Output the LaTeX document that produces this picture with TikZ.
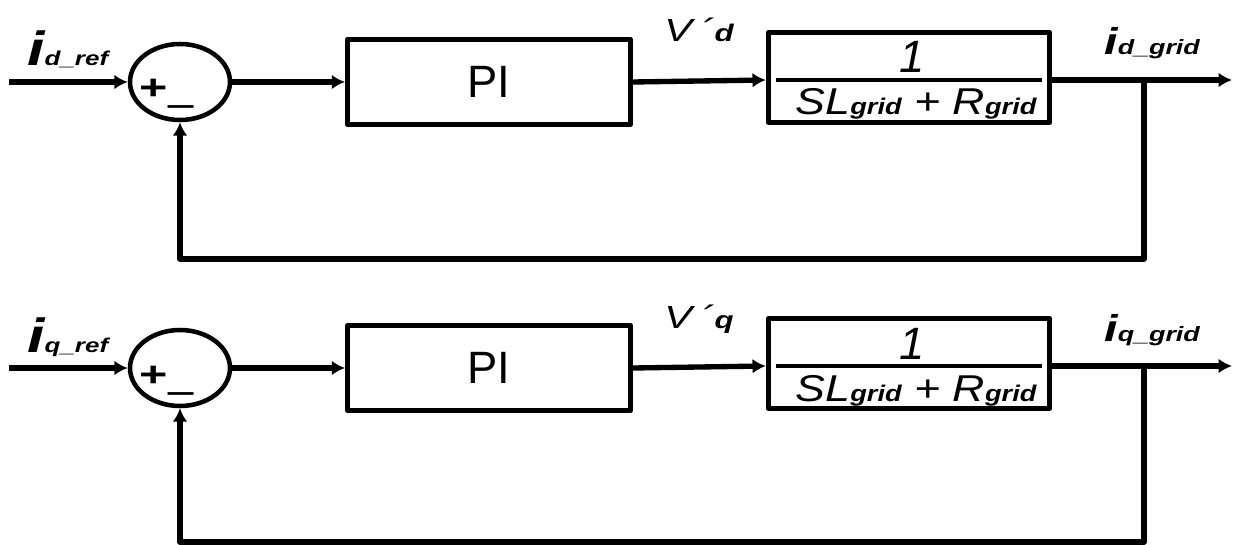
\documentclass[tikz,border=0pt]{standalone}
\usepackage{fontspec}
\usepackage{graphicx}
\setmainfont{Liberation Sans}
\usetikzlibrary{arrows.meta,shapes.geometric}
\newcommand{\stretchtxt}[1]{\scalebox{1.3}[1]{#1}}
\newcommand{\denomtxt}[1]{\scalebox{1.2}[1]{#1}}
\newcommand{\fsz}[1]{\fontsize{#1}{#1}\selectfont}
\begin{document}
\begin{tikzpicture}[x=0.75pt,y=-0.75pt,
  line join=round,
  blk/.style={draw, line width=3.8pt, rectangle, inner sep=0},
  pibox/.style={blk, minimum width=212pt, minimum height=64pt},
  tfbox/.style={blk, minimum width=211pt, minimum height=67.5pt},
  sumnode/.style={draw, ellipse, line width=3.4pt, minimum width=75pt, minimum height=57pt, inner sep=0},
  wire/.style={line width=4pt},
  arr/.style={wire, -{Latex[length=10pt,width=11pt]}},
  fracline/.style={line width=3.2pt},
  lbl/.style={inner sep=0, anchor=base west},
  ctr/.style={inner sep=0, anchor=base},
]
\useasboundingbox (0,0) rectangle (1234,545);

% ---------- top loop ----------
\node[sumnode] (s1) at (180,82) {};
\node[lbl] (p1) at (139,100) {\scalebox{1.4}[1]{\bfseries\fsz{26pt}+}};
\node[lbl] (m1) at (168,100) {\scalebox{1}[1.6]{\bfseries\fsz{34pt}\_}};
\node[pibox] (pi1) at (489,82) {\fsz{34pt}PI};
\node[tfbox] (tf1) at (909,77.5) {};
\coordinate (fl1) at (776,80);
\coordinate (fr1) at (1042,80);
\draw[fracline] (fl1) -- (fr1);
\node[ctr] (num1) at (912,73) {\itshape\fsz{34pt}1};
\node[ctr] (den1) at (916,115) {\denomtxt{\itshape\fsz{28pt}SL{\bfseries\fsz{17pt}grid} + R{\bfseries\fsz{17pt}grid}}};
\node[lbl] (iref1) at (27,66) {\stretchtxt{\bfseries\itshape\fsz{36pt}i\fsz{15pt}d\_ref}};
\node[lbl] (v1) at (664,42) {\stretchtxt{\itshape\fsz{24pt}V\hspace{5pt}´{\bfseries\fsz{18pt}d}}};
\node[lbl] (igrid1) at (1104,55) {\stretchtxt{\bfseries\itshape\fsz{28pt}i\fsz{15.5pt}d\_grid}};
\coordinate (in1) at (9,82);
\coordinate (out1) at (1232,80);
\coordinate (tap1) at (1144,80);
\coordinate (fb1) at (1144,259);
\draw[arr] (in1) -- (s1.west);
\draw[arr] (s1.east) -- (pi1.west);
\draw[arr] (pi1.east) -- (tf1.west |- out1);
\draw[arr] (tf1.east |- out1) -- (out1);
\draw[arr] (tap1) -- (fb1) -| (s1.south);

% ---------- bottom loop ----------
\node[sumnode] (s2) at (180,368) {};
\node[lbl] (p2) at (139,386) {\scalebox{1.4}[1]{\bfseries\fsz{26pt}+}};
\node[lbl] (m2) at (168,386) {\scalebox{1}[1.6]{\bfseries\fsz{34pt}\_}};
\node[pibox] (pi2) at (489,368) {\fsz{34pt}PI};
\node[tfbox] (tf2) at (909,363.5) {};
\coordinate (fl2) at (776,366);
\coordinate (fr2) at (1042,366);
\draw[fracline] (fl2) -- (fr2);
\node[ctr] (num2) at (912,359) {\itshape\fsz{34pt}1};
\node[ctr] (den2) at (916,401) {\denomtxt{\itshape\fsz{28pt}SL{\bfseries\fsz{17pt}grid} + R{\bfseries\fsz{17pt}grid}}};
\node[lbl] (iref2) at (27,352) {\stretchtxt{\bfseries\itshape\fsz{36pt}i\fsz{15pt}q\_ref}};
\node[lbl] (v2) at (664,328) {\stretchtxt{\itshape\fsz{24pt}V\hspace{5pt}´{\bfseries\fsz{18pt}q}}};
\node[lbl] (igrid2) at (1104,341) {\stretchtxt{\bfseries\itshape\fsz{28pt}i\fsz{15.5pt}q\_grid}};
\coordinate (in2) at (9,368);
\coordinate (out2) at (1232,366);
\coordinate (tap2) at (1144,366);
\coordinate (fb2) at (1144,542);
\draw[arr] (in2) -- (s2.west);
\draw[arr] (s2.east) -- (pi2.west);
\draw[arr] (pi2.east) -- (tf2.west |- out2);
\draw[arr] (tf2.east |- out2) -- (out2);
\draw[arr] (tap2) -- (fb2) -| (s2.south);
\end{tikzpicture}
\end{document}
